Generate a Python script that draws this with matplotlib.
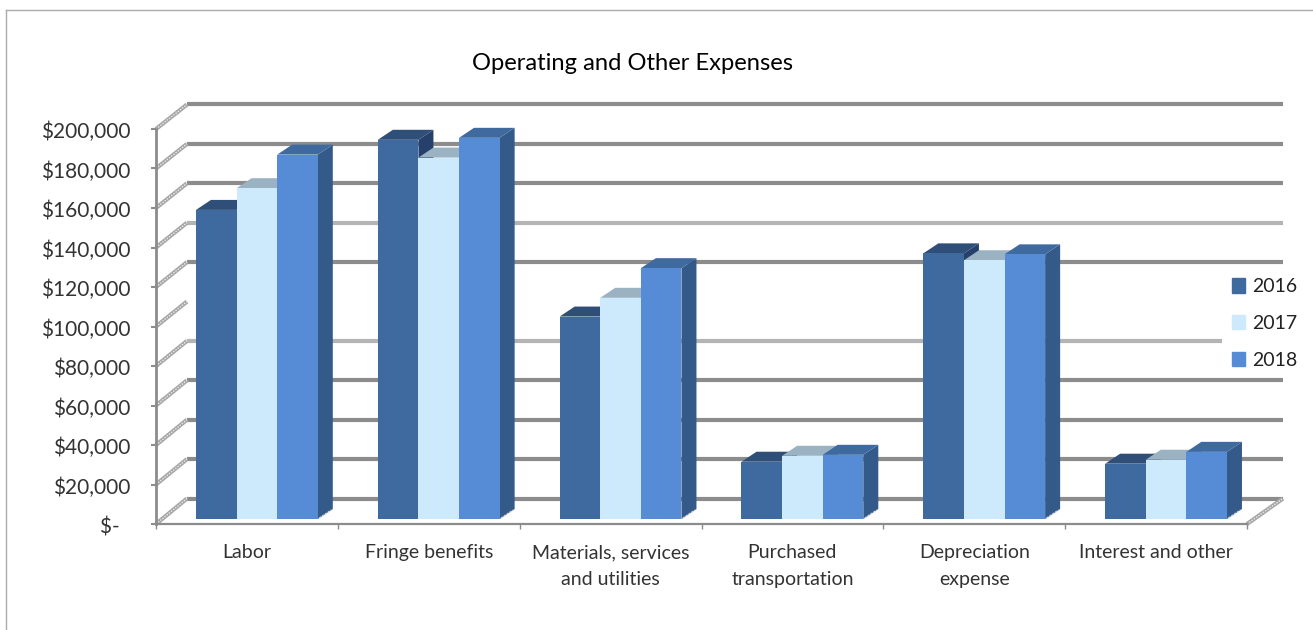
import matplotlib
matplotlib.use('Agg')
import matplotlib.pyplot as plt
from matplotlib.lines import Line2D
from matplotlib.patches import Patch, Polygon
from matplotlib.transforms import Affine2D

plt.rcParams['font.family'] = ['Lato', 'DejaVu Sans']

# Data
categories = ['Labor', 'Fringe benefits', 'Materials, services\nand utilities',
              'Purchased\ntransportation', 'Depreciation\nexpense', 'Interest and other']
years = ['2016', '2017', '2018']
values_2016 = [156500, 192000, 102500, 29000, 134500, 28000]
values_2017 = [167500, 183000, 112000, 32000, 131000, 30000]
values_2018 = [184500, 193000, 127000, 32500, 134000, 34000]
y_ticks = list(range(0, 200001, 20000))

W, H = 1313, 630
DPI = 100
GREY = '#8c8c8c'

# front, top and side colours per series
front_cols = ['#3f6a9f', '#cdeafd', '#568bd6']
top_cols = ['#2f4f78', '#9ab2c2', '#3f6a9f']
side_cols = ['#24406b', '#8aa3b5', '#345a8a']

fig = plt.figure(figsize=(W / DPI, H / DPI), dpi=DPI)
# axes box is the front plane of the 3D frame
x0, x1, y_top, y_bot = 156, 1247, 129, 524
ax = fig.add_axes([x0 / W, 1 - y_bot / H, (x1 - x0) / W, (y_bot - y_top) / H])
ax.set_xlim(0, 6)
ax.set_ylim(0, 200000)
ax.patch.set_visible(False)


def shifted(dx, dy):
    # data transform moved by a number of pixels, used for the depth effect
    return ax.transData + Affine2D().translate(dx, dy)


def wall_dy(v):
    # the back wall is a little shorter than the front plane
    return 25.5 - 1.0 * v / 200000


bar_base = shifted(0, 5)

# Back wall gridlines, two print lighter and the 100k one drops out
for v in y_ticks:
    if v == 100000:
        continue
    light = v in (80000, 140000)
    end = 5.69 if v == 80000 else 6.03
    ax.plot([0, end], [v, v], transform=shifted(31, wall_dy(v)), color='#b4b4b4' if light else GREY,
            lw=3, solid_capstyle='butt', clip_on=False, zorder=1)

# Slanted lines on the left wall and the floor
for x, v in [(0, v) for v in y_ticks] + [(6, 0)]:
    end_x = 36 if x == 6 else 31
    trans = ax.transData
    px, py = trans.transform((x, v))
    inv = trans.inverted()
    (ax_, ay_), (bx_, by_) = inv.transform([(px, py), (px + end_x, py + wall_dy(v))])
    ax.plot([ax_, bx_], [ay_, by_], color='#a6a6a6', lw=3, clip_on=False, zorder=1,
            solid_capstyle='butt')
    ax.plot([ax_, bx_], [ay_, by_], color='#ececec', lw=1, ls=(0, (1, 1)),
            clip_on=False, zorder=1)

# Bars with their top and side faces
bar_w = 40.6 / ((x1 - x0) / 6)
group_off = 40 / ((x1 - x0) / 6)
depth_x = 15 / ((x1 - x0) / 6)
depth_y = 10 / ((y_bot - y_top) / 200000)
series = [values_2016, values_2017, values_2018]
z = 3
for c in range(len(categories)):
    for s, vals in enumerate(series):
        left = c + group_off + s * bar_w
        right = left + bar_w
        h = vals[c]
        top = Polygon([(left, h), (left + depth_x, h + depth_y), (right + depth_x, h + depth_y), (right, h)],
                      closed=True, fc=top_cols[s], ec='none', transform=bar_base, clip_on=False, zorder=z)
        side = Polygon([(right, 0), (right + depth_x, depth_y), (right + depth_x, h + depth_y), (right, h)],
                       closed=True, fc=side_cols[s], ec='none', transform=bar_base, clip_on=False, zorder=z)
        ax.add_patch(side)
        ax.add_patch(top)
        ax.plot([right + depth_x * 0.1, right + depth_x * 0.9], [depth_y * 0.1, depth_y * 0.9], transform=bar_base,
                color='#c9d3de', lw=1, ls=(0, (1.5, 1)), clip_on=False, zorder=z + 0.1)
        ax.bar(left, h, bar_w, align='edge', color=front_cols[s], transform=bar_base, clip_on=False, zorder=z + 0.2)
        z += 1

# Axes frame
for name in ('top', 'right'):
    ax.spines[name].set_visible(False)
for name in ('left', 'bottom'):
    ax.spines[name].set_color(GREY)
ax.spines['left'].set_linewidth(2)
ax.spines['bottom'].set_linewidth(1.6)

ax.set_yticks(y_ticks)
ax.set_yticklabels(['$-  '] + [f'${v:,}' for v in y_ticks[1:]])
ax.tick_params(axis='y', length=3.6, width=1.5, color=GREY, labelsize=15, labelcolor='#333333', pad=15)
for label in ax.get_yticklabels():
    label.set_transform(label.get_transform() + Affine2D().translate(0, -1))

ax.set_xticks(range(7))
ax.set_xticklabels([])
ax.set_xticks([i + 0.5 for i in range(6)], minor=True)
ax.set_xticklabels(categories, minor=True, fontsize=14, color='#333333', linespacing=1.68, va='top')
ax.tick_params(axis='x', which='major', length=3.6, width=1, color=GREY)
ax.tick_params(axis='x', which='minor', length=0, pad=14.5)

fig.text(633 / W, 1 - 64 / H, 'Operating and Other Expenses', fontsize=17.1, color='black',
         ha='center', va='center')

handles = [Patch(color=col, label=yr) for col, yr in zip(front_cols, years)]
fig.legend(handles=handles, loc='center left', bbox_to_anchor=(1214 / W, 1 - 323.5 / H), frameon=False,
           fontsize=14, handlelength=0.7, handleheight=0.75, handletextpad=0.35, labelspacing=1.02,
           labelcolor='#222222')

# Thin outline along the top and left of the chart area
border = dict(color='#aaaaaa', lw=1, transform=fig.transFigure)
fig.add_artist(Line2D([6 / W, 1], [1 - 9.5 / H, 1 - 9.5 / H], **border))
fig.add_artist(Line2D([6 / W, 6 / W], [0, 1 - 9.5 / H], **border))

fig.savefig('out.png', dpi=DPI)
